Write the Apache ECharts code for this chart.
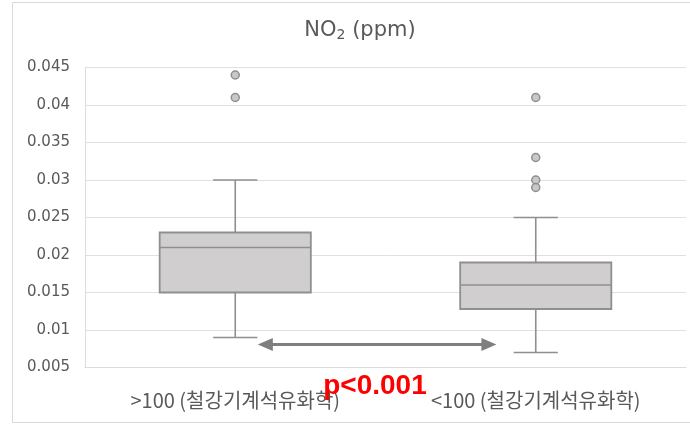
<!DOCTYPE html>
<html>
<head>
<meta charset="utf-8">
<script src="https://cdn.jsdelivr.net/npm/echarts@6/dist/echarts.min.js"></script>
<style>
html,body{margin:0;padding:0;background:#fff;}
#chart{width:690px;height:426px;}
</style>
</head>
<body>
<div id="chart"></div>
<script>
// ---- data ----
const categories = ['>100 (철강기계석유화학)', '<100 (철강기계석유화학)'];
// [low whisker, Q1, median, Q3, high whisker]
const boxStats = [
  [0.009, 0.015, 0.021, 0.023, 0.030],
  [0.007, 0.0128, 0.016, 0.019, 0.025]
];
const outliersGroup1 = [0.044, 0.041];
const outliersGroup2 = [0.041, 0.033, 0.030, 0.029];
const yTicks = { min: 0.005, max: 0.045, interval: 0.005 };
const titleText = 'NO₂ (ppm)';
const pValueText = 'p<0.001';
const arrowLevel = 0.0081;

const textColor = '#595959';
const lineColor = '#8f8f8f';
const fillColor = '#d0cece';

const boxData = boxStats.map((s, i) => [i].concat(s));
const outlierData = outliersGroup1.map(v => [0, v]).concat(outliersGroup2.map(v => [1, v]));

const chart = echarts.init(document.getElementById('chart'), null, {renderer: 'canvas'});

function renderBox(params, api) {
  const idx = api.value(0);
  const low = api.coord([idx, api.value(1)]);
  const q1 = api.coord([idx, api.value(2)]);
  const med = api.coord([idx, api.value(3)]);
  const q3 = api.coord([idx, api.value(4)]);
  const high = api.coord([idx, api.value(5)]);
  const band = api.size([1, 0])[0];
  const bw = band * 0.503;
  const cw = band * 0.147;
  const x = low[0];
  const st = {stroke: lineColor, lineWidth: 1.6, fill: null};
  return {
    type: 'group',
    children: [
      {type: 'line', shape: {x1: x, y1: q3[1], x2: x, y2: high[1]}, style: st},
      {type: 'line', shape: {x1: x, y1: q1[1], x2: x, y2: low[1]}, style: st},
      {type: 'line', shape: {x1: x - cw/2, y1: high[1], x2: x + cw/2, y2: high[1]}, style: st},
      {type: 'line', shape: {x1: x - cw/2, y1: low[1], x2: x + cw/2, y2: low[1]}, style: st},
      {type: 'rect', shape: {x: x - bw/2, y: q3[1], width: bw, height: q1[1] - q3[1]},
        style: {fill: fillColor, stroke: lineColor, lineWidth: 1.8}},
      {type: 'line', shape: {x1: x - bw/2, y1: med[1], x2: x + bw/2, y2: med[1]}, style: st}
    ]
  };
}

chart.setOption({
  animation: false,
  backgroundColor: '#fff',
  title: {
    text: '{a|NO}{b|2}{a| (ppm)}',
    left: 355,
    top: 14,
    textAlign: 'center',
    textStyle: {
      fontWeight: 'normal',
      rich: {
        a: {fontFamily: 'DejaVu Sans', fontSize: 21, fontWeight: 'normal', color: textColor},
        b: {fontFamily: 'DejaVu Sans', fontSize: 14, fontWeight: 'normal', color: textColor, padding: [9, 0, 0, 0]}
      }
    }
  },
  grid: {left: 85, right: 4, top: 67.5, bottom: 58.5},
  xAxis: {
    type: 'category',
    data: categories,
    axisLine: {show: true, lineStyle: {color: '#dcdcdc', width: 1}},
    axisTick: {show: false},
    axisLabel: {color: textColor, fontFamily: 'Noto Sans CJK KR', fontSize: 20, margin: 23},
    splitLine: {show: false}
  },
  yAxis: {
    type: 'value',
    min: yTicks.min,
    max: yTicks.max,
    interval: yTicks.interval,
    axisLine: {show: true, lineStyle: {color: '#dcdcdc', width: 1}},
    axisTick: {show: false},
    axisLabel: {color: textColor, fontFamily: 'DejaVu Sans', fontSize: 15, margin: 15},
    splitLine: {lineStyle: {color: '#e0e0e0', width: 1}}
  },
  series: [
    {
      type: 'custom',
      renderItem: renderBox,
      data: boxData,
      encode: {x: 0, y: [1, 2, 3, 4, 5]},
      z: 2
    },
    {
      type: 'scatter',
      data: outlierData,
      symbol: 'circle',
      symbolSize: 8,
      itemStyle: {color: '#c8c8c8', borderColor: '#8f8f8f', borderWidth: 1.5, opacity: 1},
      z: 3
    }
  ]
});

// annotation: double-headed arrow between groups and p-value text
const pA = chart.convertToPixel({gridIndex: 0}, [0, arrowLevel]);
const pB = chart.convertToPixel({gridIndex: 0}, [1, arrowLevel]);
const band = pB[0] - pA[0];
const ax1 = pA[0] + band * 0.075;
const ax2 = pB[0] - band * 0.131;
const ay = Math.round(pA[1]) + 0.5;
const head = 15, hh = 6.5;
chart.setOption({
  graphic: [
    {type: 'rect', shape: {x: 12.5, y: 2.5, width: 700, height: 420}, style: {fill: null, stroke: '#d9d9d9', lineWidth: 1}, z: 0, silent: true},
    {type: 'line', shape: {x1: ax1 + head - 2, y1: ay, x2: ax2 - head + 2, y2: ay}, style: {stroke: '#7f7f7f', lineWidth: 3}, z: 10},
    {type: 'polygon', shape: {points: [[ax1, ay], [ax1 + head, ay - hh], [ax1 + head, ay + hh]]}, style: {fill: '#7f7f7f'}, z: 10},
    {type: 'polygon', shape: {points: [[ax2, ay], [ax2 - head, ay - hh], [ax2 - head, ay + hh]]}, style: {fill: '#7f7f7f'}, z: 10},
    {type: 'text', x: 375, y: 386, style: {text: pValueText, fill: '#ff0000', font: 'bold 28px "Liberation Sans", Arial, sans-serif', textAlign: 'center', textVerticalAlign: 'middle'}, z: 20}
  ]
});
</script>
</body>
</html>
